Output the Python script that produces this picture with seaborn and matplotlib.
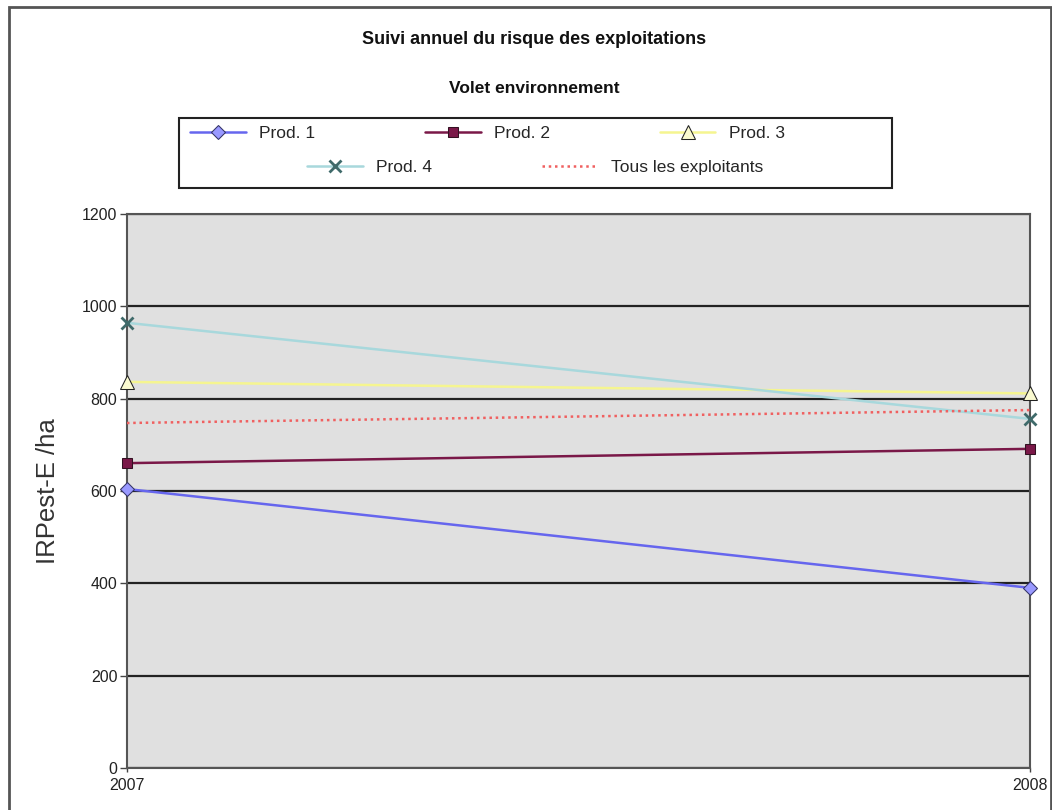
import numpy as np
import pandas as pd
import matplotlib.pyplot as plt
import seaborn as sns
from matplotlib.patches import Rectangle

# values
years = [2007, 2008]
prod1 = [604, 390]
prod2 = [660, 691]
prod3 = [836, 811]
prod4 = [964, 756]
tous = [747, 775]
yticks = [0, 200, 400, 600, 800, 1000, 1200]

sns.set_style("white")
plt.rcParams['font.family'] = ['Liberation Sans', 'DejaVu Sans']

fig = plt.figure(figsize=(10.52, 8.10), dpi=100)
ax = fig.add_axes([0.1207, 0.052, 0.858, 0.684])
ax.set_facecolor("#e0e0e0")

series = [
    ("Prod. 1", prod1, dict(color="#6666ee", marker="D", markersize=7, markerfacecolor="#9999ff", markeredgecolor="#333366")),
    ("Prod. 2", prod2, dict(color="#7a1848", marker="s", markersize=7, markerfacecolor="#7a1848", markeredgecolor="#331122")),
    ("Prod. 3", prod3, dict(color="#f5f590", marker="^", markersize=10, markerfacecolor="#fafad0", markeredgecolor="#222222")),
    ("Prod. 4", prod4, dict(color="#a8d8dc", marker="x", markersize=8, markeredgecolor="#3f6a6a", markeredgewidth=2)),
    ("Tous les exploitants", tous, dict(color="#f06060", linestyle=(0, (1, 1.5)))),
]

for name, vals, kw in series:
    df = pd.DataFrame({"year": years, "val": vals})
    sns.lineplot(data=df, x="year", y="val", ax=ax, linewidth=1.8, label=name,
                 zorder=3, clip_on=False, **kw)

ax.set_xlim(2007, 2008)
ax.set_ylim(0, 1200)
ax.set_xticks(years)
ax.set_xticklabels([str(y) for y in years], fontsize=11.5, color="#222222")
ax.set_yticks(yticks)
ax.set_yticklabels([str(t) for t in yticks], fontsize=11.5, color="#222222")
ax.tick_params(axis="y", direction="out", length=5, width=1, color="#444444", left=True, pad=2)
ax.tick_params(axis="x", direction="out", length=3, width=1, color="#444444", bottom=True, pad=4)
ax.yaxis.grid(True, color="#222222", linewidth=1.6, zorder=1)
ax.set_axisbelow(True)
for s in ax.spines.values():
    s.set_color("#555555")
    s.set_linewidth(1.5)
ax.set_xlabel("")
ax.set_ylabel("IRPest-E /ha", fontsize=18.5, color="#333333", labelpad=16)

# legend: two rows, Prod1/Prod2/Prod3 then Prod4/Tous centred below
h, l = ax.get_legend_handles_labels()
leg_kw = dict(frameon=False, fontsize=12.5, handlelength=3.2, handletextpad=0.8,
              columnspacing=6.3, borderpad=0, borderaxespad=0,
              loc="center left", bbox_transform=fig.transFigure)
leg1 = ax.legend(h[:3], l[:3], ncol=3, bbox_to_anchor=(190 / 1052, 1 - 133 / 810), **leg_kw)
ax.add_artist(leg1)
ax.legend(h[3:], l[3:], ncol=2, bbox_to_anchor=(307 / 1052, 1 - 167 / 810), **leg_kw)
fig.patches.append(Rectangle((179 / 1052, 1 - 188 / 810), 713 / 1052, 70 / 810,
                             transform=fig.transFigure, fill=False,
                             edgecolor="#222222", linewidth=1.5))

fig.text(0.508, 0.951, "Suivi annuel du risque des exploitations", ha="center", va="center",
         fontsize=13, fontweight="bold", color="#111111")
fig.text(0.508, 0.891, "Volet environnement", ha="center", va="center",
         fontsize=12.5, fontweight="bold", color="#111111")

# outer border of the chart area
fig.patches.append(Rectangle((0.009, -0.01), 0.99, 1.001, transform=fig.transFigure,
                             fill=False, edgecolor="#555555", linewidth=2))

fig.savefig("out.png", dpi=100)
